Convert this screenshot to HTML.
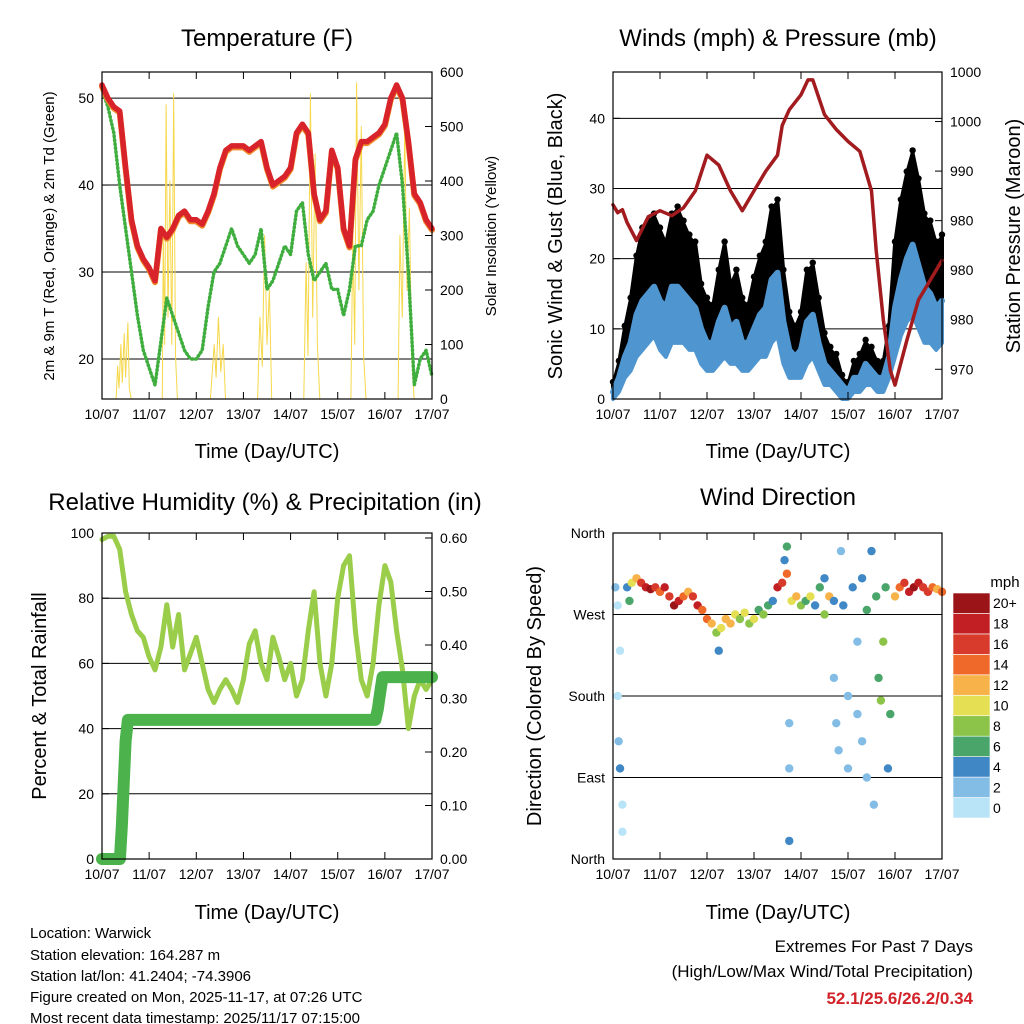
<!DOCTYPE html>
<html><head><meta charset="utf-8"><style>
html,body{margin:0;padding:0;background:#fff}
svg{display:block;font-family:"Liberation Sans",sans-serif}
</style></head><body>
<svg id="c" width="1024" height="1024" viewBox="0 0 1024 1024" xmlns="http://www.w3.org/2000/svg">
<rect width="1024" height="1024" fill="#fff"/>
<text x="267" y="46" font-size="24" text-anchor="middle">Temperature (F)</text>
<text x="778" y="46" font-size="24" text-anchor="middle">Winds (mph) &amp; Pressure (mb)</text>
<text x="265" y="510" font-size="24" text-anchor="middle">Relative Humidity (%) &amp; Precipitation (in)</text>
<text x="778" y="505" font-size="24" text-anchor="middle">Wind Direction</text>
<text x="267" y="458" font-size="20" text-anchor="middle">Time (Day/UTC)</text>
<text x="778" y="458" font-size="20" text-anchor="middle">Time (Day/UTC)</text>
<text x="267" y="919" font-size="20" text-anchor="middle">Time (Day/UTC)</text>
<text x="778" y="919" font-size="20" text-anchor="middle">Time (Day/UTC)</text>
<text transform="translate(54,236) rotate(-90)" font-size="15" text-anchor="middle">2m &amp; 9m T (Red, Orange) &amp; 2m Td (Green)</text>
<text transform="translate(496,236) rotate(-90)" font-size="15" text-anchor="middle">Solar Insolation (Yellow)</text>
<text transform="translate(562,236) rotate(-90)" font-size="20" text-anchor="middle">Sonic Wind &amp; Gust (Blue, Black)</text>
<text transform="translate(1020,236) rotate(-90)" font-size="20" text-anchor="middle">Station Pressure (Maroon)</text>
<text transform="translate(46,696) rotate(-90)" font-size="20" text-anchor="middle">Percent &amp; Total Rainfall</text>
<text transform="translate(541,696) rotate(-90)" font-size="20" text-anchor="middle">Direction (Colored By Speed)</text>
<g font-size="15">
<text x="30" y="938">Location: Warwick</text>
<text x="30" y="960">Station elevation: 164.287 m</text>
<text x="30" y="981">Station lat/lon: 41.2404; -74.3906</text>
<text x="30" y="1002">Figure created on Mon, 2025-11-17, at 07:26 UTC</text>
<text x="30" y="1023">Most recent data timestamp: 2025/11/17 07:15:00</text>
</g>
<text x="973" y="952" font-size="17" text-anchor="end">Extremes For Past 7 Days</text>
<text x="973" y="977" font-size="17" text-anchor="end">(High/Low/Max Wind/Total Precipitation)</text>
<text x="973" y="1004" font-size="17" font-weight="bold" fill="#d2232a" text-anchor="end">52.1/25.6/26.2/0.34</text>
<text x="1005" y="587" font-size="15" text-anchor="middle">mph</text>
</svg>
<script>
const dayLabels=["10/07","11/07","12/07","13/07","14/07","15/07","16/07","17/07"];
const step3h=0.125;
const tempRed=[51.5,50,49,48.5,42,36,33,31.5,30.5,29,35,34,35,36.5,37,36,36,35.5,37,39,42,44,44.5,44.5,44.5,44,44.5,45,42,40,40.5,41,42,46,47,46,39,36,37,44,42,35,33,43,45,45,45.5,46,47,50,51.5,50,45,39,38,36,35];
const tempDew=[51,49,46,40,35,30,25,21,19,17,22,27,25,23,21,20,20,21,26,30,31,33,35,33,32,31,32,35,28,29,31,33,32,37,38,32,29,30,31,28,28,25,28,33,33,36,37,40,42,44,46,40,30,17,20,21,18];
const solarTimes=[0.3,0.33,0.36,0.4,0.43,0.47,0.5,0.55,0.58,0.62,1.28,1.3,1.33,1.36,1.4,1.44,1.48,1.52,1.56,1.6,2.3,2.38,2.42,2.47,2.52,2.57,2.62,3.3,3.35,3.4,3.45,3.5,3.55,3.6,4.28,4.33,4.37,4.42,4.47,4.52,4.57,4.62,5.28,5.32,5.36,5.4,5.45,5.5,5.55,5.6,6.28,6.32,6.37,6.42,6.47,6.52,6.57,6.62];
const solarValues=[0,60,20,100,30,120,40,140,20,0,0,300,100,540,150,400,100,560,80,0,0,100,40,150,50,100,0,0,150,60,300,100,200,0,0,250,80,560,150,450,100,0,0,300,100,580,200,500,80,0,0,300,150,500,200,350,80,0];
const windGust=[2,5,10,14,20,24,25,26,24,22,26,27,25,23,22,16,14,13,18,22,16,18,14,13,17,20,22,27,28,18,12,10,12,18,19,14,9,7,6,3,2,5,6,8,7,5,5,10,22,28,32,35,31,26,25,22,23];
const windSust=[1,3,6,8,12,14,15,16,14,13,16,16,15,14,13,10,8,8,11,13,10,11,8,8,10,12,13,17,18,11,7,6,7,11,12,8,5,4,3,2,1,3,3,5,4,3,3,6,13,17,20,22,19,16,15,13,14];
const windLull=[0,1,3,4,6,7,8,9,7,6,8,8,8,7,7,5,4,4,5,6,5,5,4,4,5,6,6,8,9,5,3,3,3,5,6,4,2,2,1,0,0,1,1,2,2,1,1,3,6,9,11,12,10,8,8,7,8];
const presTimes=[0,0.1,0.2,0.3,0.5,0.75,1.0,1.25,1.5,1.75,2.0,2.25,2.5,2.75,3.0,3.25,3.5,3.6,3.75,4.0,4.15,4.25,4.5,4.75,5.0,5.25,5.5,5.6,5.75,5.9,6.0,6.25,6.5,6.75,7.0];
const presValues=[986.6,985.8,986.1,984.8,983,985.4,986,985.5,986.3,988,991.6,990.6,988,986,988,990,991.6,994.6,996.2,997.7,999.2,999.2,995.7,994.2,993,992,988,982,975,969.9,968.4,972.9,977,979,981];
const rhValues=[98,99,99,95,82,75,70,68,62,58,65,78,65,75,58,63,68,60,52,48,52,55,52,48,55,66,70,60,55,68,62,55,60,50,55,70,82,60,50,60,80,90,93,70,55,50,60,78,90,85,70,58,40,50,55,52,55];
const rainTimes=[0,0.38,0.42,0.46,0.5,0.55,5.8,5.85,5.9,5.95,7.0];
const rainValues=[0,0,0.06,0.14,0.22,0.26,0.26,0.28,0.31,0.34,0.34];
const dirTimes=[0.05,0.1,0.15,0.1,0.12,0.15,0.2,0.2,0.3,0.35,0.4,0.5,0.6,0.7,0.8,0.9,1.0,1.1,1.2,1.3,1.4,1.5,1.6,1.7,1.8,1.9,2.0,2.1,2.2,2.25,2.3,2.4,2.5,2.6,2.7,2.8,2.9,3.0,3.1,3.2,3.3,3.4,3.5,3.6,3.7,3.65,3.7,3.75,3.75,3.75,3.8,3.9,4.0,4.1,4.2,4.3,4.4,4.5,4.5,4.6,4.7,4.7,4.75,4.8,4.85,4.9,5.0,5.0,5.1,5.2,5.2,5.3,5.3,5.4,5.4,5.5,5.55,5.6,5.65,5.7,5.75,5.8,5.85,5.9,6.0,6.1,6.2,6.3,6.4,6.5,6.6,6.7,6.8,6.9,7.0];
const dirValues=[300,280,230,180,130,100,60,30,300,285,305,310,305,300,298,300,295,300,290,280,285,290,295,290,280,275,265,260,250,230,255,265,260,270,265,272,260,265,275,270,280,285,300,305,315,330,345,20,100,150,285,290,280,285,290,280,300,310,270,290,285,200,150,120,340,280,180,100,300,240,160,130,310,90,275,340,60,290,200,175,240,300,100,160,290,300,305,295,300,305,300,295,300,298,295];
const dirSpeeds=[2,1,1,0,2,4,1,0,4,6,10,12,16,18,20,16,14,18,16,20,18,14,12,16,18,14,14,12,8,4,10,12,12,10,8,10,8,10,6,8,6,4,18,16,14,4,6,4,2,2,10,12,8,6,10,4,6,4,8,12,4,2,2,2,2,4,2,2,4,2,2,2,4,2,6,4,2,6,6,8,8,6,4,6,12,14,16,18,20,18,16,16,14,12,14];
const speedColors=["#b9e4f8","#83bde6","#3f87c5","#4aa56b","#8cc44a","#e4df53","#f8b24a","#ef6a2a","#d83a2b","#c11f24","#9b1418"];
const speedLabels=["0","2","4","6","8","10","12","14","16","18","20+"];
const tempTicks=[20,30,40,50];
const solarTicks=[0,100,200,300,400,500,600];
const windTicks=[0,10,20,30,40];
const presTicks=[1000,995,990,985,980,975,970];
const presTickLabels=["1000","1000","990","980","980","980","970"];
const rhTicks=[0,20,40,60,80,100];
const rainTicks=[0,0.1,0.2,0.3,0.4,0.5,0.6];
const rainTickLabels=["0.00","0.10","0.20","0.30","0.40","0.50","0.60"];
const dirTicks=[0,90,180,270,360];
const dirTickLabels=["North","East","South","West","North"];

const svg=document.getElementById('c');
const NS="http://www.w3.org/2000/svg";
function mk(tag,attrs,parent){const e=document.createElementNS(NS,tag);for(const k in attrs)e.setAttribute(k,attrs[k]);(parent||svg).appendChild(e);return e;}
function txt(s,attrs){const e=mk('text',attrs);e.textContent=s;return e;}

const L={x0:102,x1:432},R={x0:613,x1:942},T={y0:72,y1:399},B={y0:533,y1:859};
function xs(P){return t=>P.x0+t*(P.x1-P.x0)/7;}
function lin(d0,d1,r0,r1){return v=>r0+(v-d0)*(r1-r0)/(d1-d0);}
const yTemp=lin(15.4,53,399,72), ySol=lin(0,600,399,72), yWind=lin(0,46.6,399,72), yPres=lin(1000,967,72,399);
const yRH=lin(0,100,859,533), yRain=lin(0,0.6,859,538), yDir=lin(0,360,859,533);

function frame(P,V,name){
  const r=mk('rect',{x:P.x0,y:V.y0,width:P.x1-P.x0,height:V.y1-V.y0,fill:'none',stroke:'#000','stroke-width':1.2});
  
  
  const X=xs(P);
  dayLabels.forEach((d,i)=>{
    const x=X(i);
    mk('line',{x1:x,x2:x,y1:V.y1,y2:V.y1-7,stroke:'#000'});
    mk('line',{x1:x,x2:x,y1:V.y0,y2:V.y0+7,stroke:'#000'});
    const t=txt(d,{x:x,y:V.y1+20,'font-size':14,'text-anchor':'middle'});
    
    
  });
}
function leftTicks(P,V,ticks,labels,yf,name,grid){
  ticks.forEach((v,i)=>{
    const y=yf(v);
    if(grid && y>V.y0+1 && y<V.y1-1){const g=mk('line',{x1:P.x0,x2:P.x1,y1:y,y2:y,stroke:'#000','stroke-width':1});
      
      }
    mk('line',{x1:P.x0,x2:P.x0+7,y1:y,y2:y,stroke:'#000'});
    const t=txt(labels[i],{x:P.x0-8,y:y+5,'font-size':14,'text-anchor':'end'});
    
    
  });
}
function rightTicks(P,V,ticks,labels,yf,name){
  ticks.forEach((v,i)=>{
    const y=yf(v);
    mk('line',{x1:P.x1,x2:P.x1-7,y1:y,y2:y,stroke:'#000'});
    const t=txt(labels[i],{x:P.x1+8,y:y+5,'font-size':14,'text-anchor':'start'});
    
    
  });
}
function fmt(pts){return pts.map(q=>q[0].toFixed(1)+','+q[1].toFixed(1)).join(' ');}
function line(pts,attrs,name){
  const p=mk('polyline',Object.assign({points:fmt(pts),fill:'none','stroke-linejoin':'round','stroke-linecap':'round'},attrs));
  
  
  return p;
}
function band(top,bot,attrs,name){
  const p=mk('polygon',Object.assign({points:fmt(top.concat(bot.slice().reverse())),'stroke-linejoin':'round'},attrs));
  
  
  return p;
}

// Panel 1: temperature
{
  const X=xs(L);
  leftTicks(L,T,tempTicks,tempTicks.map(String),yTemp,'temp',true);
  rightTicks(L,T,solarTicks,solarTicks.map(String),ySol,'solar');
  line(solarTimes.map((t,i)=>[X(t),ySol(solarValues[i])]),{stroke:'#f6d84c','stroke-width':1},'solar-insolation-line');
  line(tempDew.map((v,i)=>[X(i*step3h),yTemp(v)]),{stroke:'#3fae3f','stroke-width':3.5,'stroke-dasharray':'1 3'},'dewpoint-line');
  line(tempRed.map((v,i)=>[X(i*step3h),yTemp(v)+1.5]),{stroke:'#f08a2a','stroke-width':6},'temp-9m-line');
  line(tempRed.map((v,i)=>[X(i*step3h),yTemp(v)]),{stroke:'#d8232a','stroke-width':5.5},'temp-2m-line');
  frame(L,T,'temp');
}
// Panel 2: winds
{
  const X=xs(R);
  leftTicks(R,T,windTicks,windTicks.map(String),yWind,'wind',true);
  rightTicks(R,T,presTicks,presTickLabels,yPres,'pressure');
  const gustPts=windGust.map((v,i)=>[X(i*step3h),yWind(v)]);
  const sustPts=windSust.map((v,i)=>[X(i*step3h),yWind(v)]);
  const lullPts=windLull.map((v,i)=>[X(i*step3h),yWind(v)]);
  band(gustPts,sustPts,{fill:'#000',stroke:'#000','stroke-width':4},'gust-band');
  windGust.forEach((v,i)=>{
    const c=mk('circle',{cx:X(i*step3h),cy:yWind(v)-3,r:3.2,fill:'#000'});
    
    
  });
  band(sustPts,lullPts,{fill:'#4f96d0',stroke:'#4f96d0','stroke-width':4},'sustained-wind-band');
  line(sustPts,{stroke:'#4f96d0','stroke-width':6},'sustained-wind-line');
  line(presTimes.map((t,i)=>[X(t),yPres(presValues[i])]),{stroke:'#a11b1f','stroke-width':3.5},'pressure-line');
  frame(R,T,'winds');
}
// Panel 3: RH & rain
{
  const X=xs(L);
  leftTicks(L,B,rhTicks,rhTicks.map(String),yRH,'rh',true);
  rightTicks(L,B,rainTicks,rainTickLabels,yRain,'rain');
  line(rhValues.map((v,i)=>[X(i*step3h),yRH(v)]),{stroke:'#9acd4a','stroke-width':5},'rh-line');
  line(rainTimes.map((t,i)=>[X(t),yRain(rainValues[i])]),{stroke:'#4cb34c','stroke-width':12},'rainfall-line');
  frame(L,B,'rh');
}
// Panel 4: direction
{
  const X=xs(R);
  leftTicks(R,B,dirTicks,dirTickLabels,yDir,'dir',true);
  dirTimes.forEach((t,i)=>{
    const ci=Math.min(10,Math.floor(dirSpeeds[i]/2));
    const c=mk('circle',{cx:X(t),cy:yDir(dirValues[i]),r:4.2,fill:speedColors[ci]});
    
    
  });
  frame(R,B,'dir');
  const bx=953,bw=37,by0=593,bh=225/11;
  speedLabels.forEach((s,i)=>{
    const y=by0+(10-i)*bh;
    const r=mk('rect',{x:bx,y:y,width:bw,height:bh,fill:speedColors[i],stroke:'#fff','stroke-width':0.6});
    
    
    const t=txt(s,{x:bx+bw+3,y:y+bh/2+5,'font-size':14});
    
    
  });
}
</script>
</body></html>
